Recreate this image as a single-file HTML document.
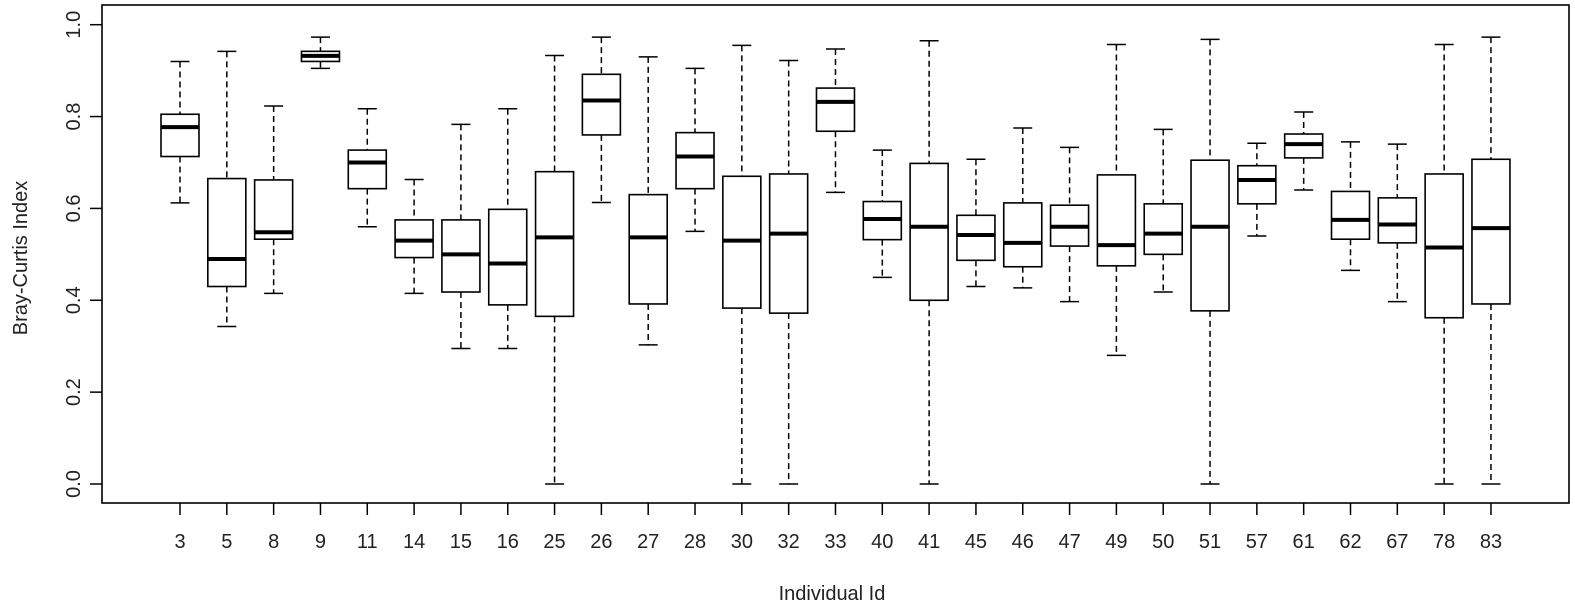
<!DOCTYPE html>
<html><head><meta charset="utf-8"><style>
html,body{margin:0;padding:0;background:#fff;}
svg{display:block;font-family:"Liberation Sans",Arial,sans-serif;}
</style></head><body>
<svg id="s" width="1575" height="608" viewBox="0 0 1575 608" xmlns="http://www.w3.org/2000/svg">
<rect x="102" y="5" width="1467" height="498" fill="none" stroke="#000" stroke-width="1.6"/>
<g id="g"></g>
<text x="832" y="600" font-size="20" text-anchor="middle" fill="#222">Individual Id</text>
<text transform="translate(27,258) rotate(-90)" font-size="20" text-anchor="middle" fill="#222">Bray-Curtis Index</text>
</svg>
<script>
var d=[["3",.92,.805,.777,.713,.612],["5",.942,.665,.49,.43,.343],["8",.823,.662,.548,.533,.415],["9",.973,.942,.932,.92,.905],["11",.817,.727,.70,.643,.56],["14",.663,.575,.53,.493,.415],["15",.783,.575,.50,.418,.295],["16",.817,.598,.48,.39,.295],["25",.933,.68,.537,.365,0],["26",.973,.892,.835,.76,.613],["27",.93,.63,.537,.392,.303],["28",.905,.765,.713,.643,.55],["30",.955,.67,.53,.383,0],["32",.922,.675,.545,.372,0],["33",.947,.862,.832,.768,.635],["40",.727,.615,.577,.532,.45],["41",.965,.698,.56,.40,0],["45",.707,.585,.542,.487,.43],["46",.775,.612,.525,.473,.427],["47",.733,.607,.56,.518,.397],["49",.957,.673,.52,.475,.28],["50",.772,.61,.545,.5,.418],["51",.968,.705,.56,.377,0],["57",.742,.693,.662,.61,.54],["61",.81,.762,.74,.71,.64],["62",.745,.637,.575,.533,.465],["67",.74,.623,.565,.525,.397],["78",.957,.675,.515,.362,0],["83",.973,.707,.557,.392,0]];
function Y(v){return 484-v*459.3;}
var h="";
for(var t=0;t<=5;t++){var v=t*0.2,y=Y(v);
h+='<line x1="90" x2="102" y1="'+y+'" y2="'+y+'" stroke="#000" stroke-width="1.5"/>';
h+='<text transform="translate(80,'+y+') rotate(-90)" font-size="20" text-anchor="middle" fill="#222">'+v.toFixed(1)+'</text>';}
for(var i=0;i<d.length;i++){var r=d[i],x=180+i*46.82,w=19,c=9.5;
h+='<line x1="'+x+'" x2="'+x+'" y1="503" y2="515" stroke="#000" stroke-width="1.5"/>';
h+='<text x="'+x+'" y="548" font-size="20" text-anchor="middle" fill="#222">'+r[0]+'</text>';
h+='<line x1="'+x+'" x2="'+x+'" y1="'+Y(r[1])+'" y2="'+Y(r[2])+'" stroke="#000" stroke-width="1.5" stroke-dasharray="6,4"/>';
h+='<line x1="'+x+'" x2="'+x+'" y1="'+Y(r[4])+'" y2="'+Y(r[5])+'" stroke="#000" stroke-width="1.5" stroke-dasharray="6,4"/>';
h+='<line x1="'+(x-c)+'" x2="'+(x+c)+'" y1="'+Y(r[1])+'" y2="'+Y(r[1])+'" stroke="#000" stroke-width="1.5"/>';
h+='<line x1="'+(x-c)+'" x2="'+(x+c)+'" y1="'+Y(r[5])+'" y2="'+Y(r[5])+'" stroke="#000" stroke-width="1.5"/>';
h+='<rect x="'+(x-w)+'" y="'+Y(r[2])+'" width="'+(2*w)+'" height="'+(Y(r[4])-Y(r[2]))+'" fill="#fff" stroke="#000" stroke-width="1.6"/>';
h+='<line x1="'+(x-w)+'" x2="'+(x+w)+'" y1="'+Y(r[3])+'" y2="'+Y(r[3])+'" stroke="#000" stroke-width="4"/>';}
document.getElementById("g").innerHTML=h;
</script>
</body></html>
